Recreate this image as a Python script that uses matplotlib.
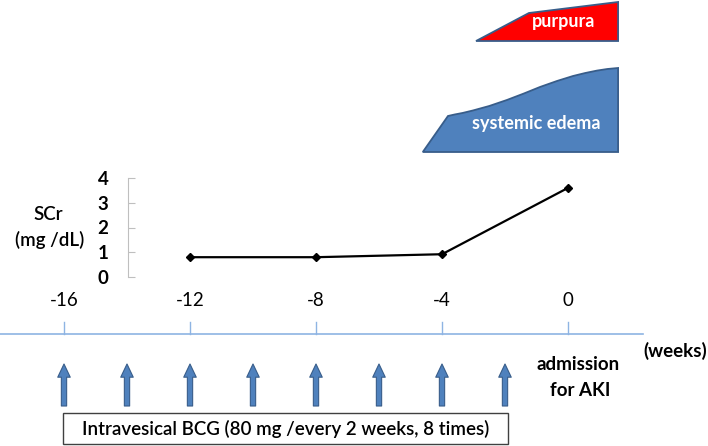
import matplotlib.pyplot as plt
from matplotlib.patches import Polygon, Rectangle

plt.rcParams['font.family'] = ['Lato', 'DejaVu Sans']

# serum creatinine (mg/dL) by week before admission
scr_weeks = [-12, -8, -4, 0]
scr_values = [0.8, 0.8, 0.92, 3.6]

# BCG instillations every 2 weeks, 8 times
bcg_weeks = [-16, -14, -12, -10, -8, -6, -4, -2]
timeline_ticks = [-16, -12, -8, -4, 0]

# symptom shapes: week / vertical level (px from top)
purpura_x = [-2.92, -1.24, 1.59, 1.59]
purpura_y = [41, 13, 2, 41]
edema_x = [-4.61, -3.81, -3.6, -3.35, -3.02, -2.5, -1.94, -1.4, -0.89,
           -0.35, 0.16, 0.55, 0.92, 1.25, 1.59, 1.59]
edema_y = [152, 116, 114.5, 113, 110.5, 106, 100, 93.5, 87,
           81, 76, 73, 70.6, 69, 68, 152]

W, H = 708, 446
X0, PX_PER_WEEK = 568, 31.5


def wk(px):
    return (px - X0) / PX_PER_WEEK


fig = plt.figure(figsize=(W / 100, H / 100), dpi=100)
bg = fig.add_axes([0, 0, 1, 1])
bg.set_xlim(wk(0), wk(W))
bg.set_ylim(H, 0)
bg.axis('off')

edge_blue = '#385D8A'
fill_blue = '#4F81BD'
fs = 13.5

# symptom shapes
bg.add_patch(Polygon(list(zip(purpura_x, purpura_y)), closed=True,
                     facecolor='#FF0000', edgecolor=edge_blue, lw=1.3))
bg.text(wk(564), 22, 'purpura', color='white', fontsize=13,
        fontweight='bold', ha='center', va='center')
bg.add_patch(Polygon(list(zip(edema_x, edema_y)), closed=True,
                     facecolor=fill_blue, edgecolor=edge_blue, lw=1.3))
bg.text(wk(536), 124, 'systemic edema', color='white', fontsize=13,
        fontweight='bold', ha='center', va='center')

# timeline
bg.plot([wk(0), wk(643)], [334, 334], color='#8EB4E3', lw=1.2)
for t in timeline_ticks:
    bg.plot([t, t], [322, 334], color='#8EB4E3', lw=1.0)
    bg.text(t, 301, f'{t}', fontsize=fs, ha='center', va='center')
bg.text(wk(675), 351, '(weeks)', fontsize=fs, fontweight='bold',
        ha='center', va='center')
bg.text(wk(578), 365, 'admission', fontsize=fs, fontweight='bold',
        ha='center', va='center')
bg.text(wk(580), 390, 'for AKI', fontsize=fs, fontweight='bold',
        ha='center', va='center')

# BCG arrows
for w in bcg_weeks:
    bg.annotate('', xy=(w, 364), xytext=(w, 406),
                arrowprops=dict(arrowstyle='simple,head_length=0.95,head_width=0.9,tail_width=0.38',
                                mutation_scale=10, facecolor=fill_blue,
                                edgecolor=edge_blue, lw=0.8,
                                shrinkA=0, shrinkB=0))

bg.add_patch(Rectangle((wk(63), 413), wk(508) - wk(63), 31,
                       facecolor='white', edgecolor='#404040', lw=1.0))
bg.text((wk(63) + wk(508)) / 2, 429,
        'Intravesical BCG (80 mg /every 2 weeks, 8 times)',
        fontsize=fs, fontweight='semibold', ha='center', va='center')

# SCr axis
left, right, bottom, top = 128, 640, 277, 178
ax = fig.add_axes([left / W, 1 - bottom / H, (right - left) / W, (bottom - top) / H])
ax.set_xlim(wk(left), wk(right))
ax.set_ylim(0, 4)
ax.patch.set_alpha(0)
for s in ['top', 'right', 'bottom']:
    ax.spines[s].set_visible(False)
ax.spines['left'].set_color('#BFBFBF')
ax.set_xticks([])
ax.set_yticks([0, 1, 2, 3, 4])
ax.tick_params(axis='y', direction='in', length=5, color='#BFBFBF',
               pad=14, labelsize=fs)
for lbl in ax.get_yticklabels():
    lbl.set_fontweight('bold')
ax.plot(scr_weeks, scr_values, color='black', lw=1.6, marker='D',
        markersize=4, clip_on=False)

bg.text(wk(48), 215, 'SCr', fontsize=fs, fontweight='semibold',
        ha='center', va='center')
bg.text(wk(50), 240, '(mg /dL)', fontsize=fs, fontweight='semibold',
        ha='center', va='center')

fig.savefig('out.png', dpi=100)
